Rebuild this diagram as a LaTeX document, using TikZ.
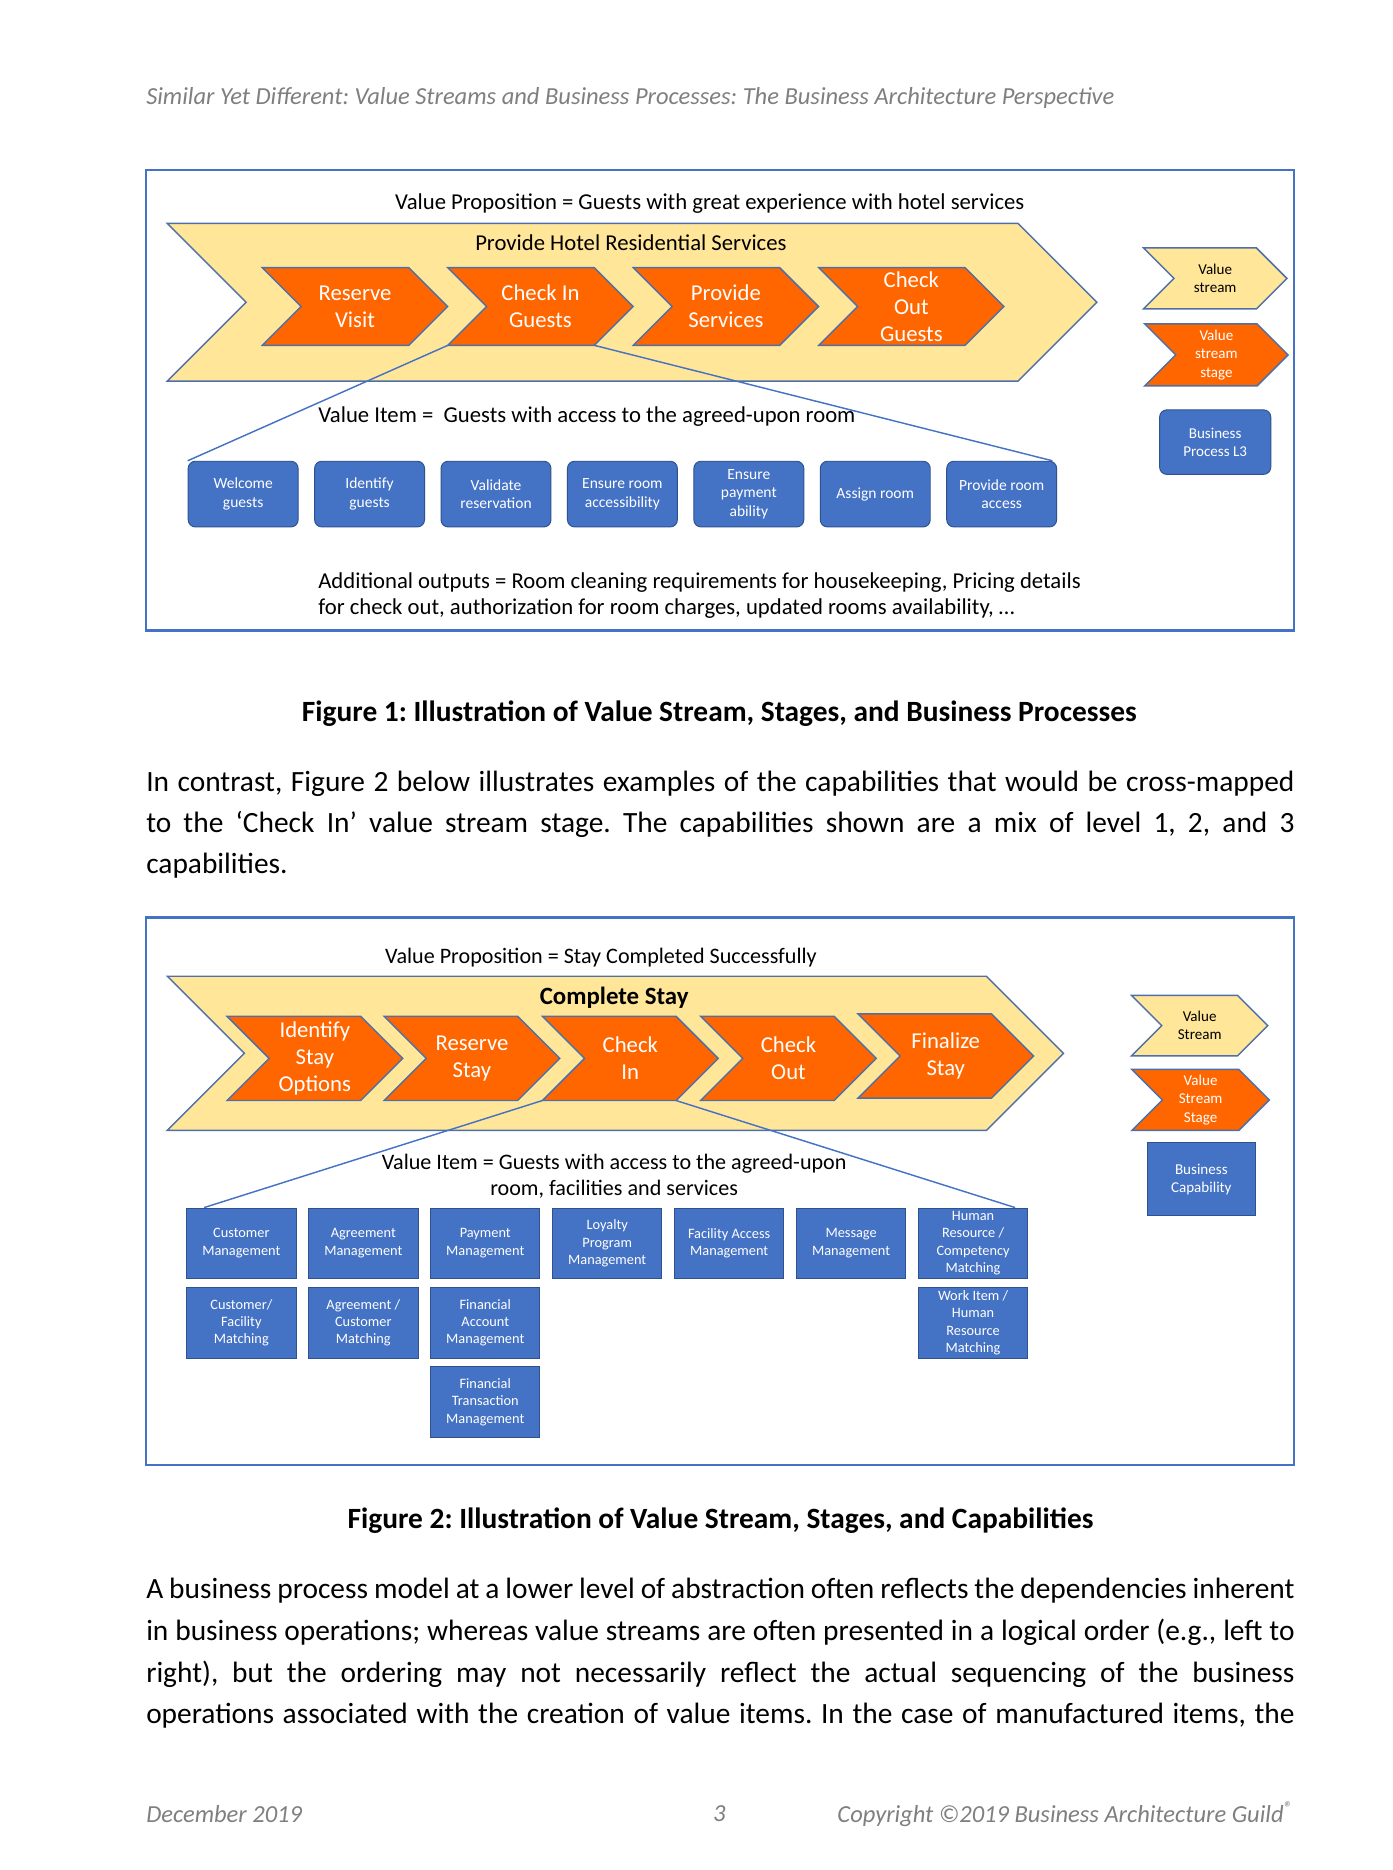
\documentclass[tikz,border=0pt]{standalone}
\usepackage{fontspec}
\setmainfont{Carlito}
\usepackage{tikz}
\usetikzlibrary{shapes.geometric, arrows}
\frenchspacing

\definecolor{vsyellow}{HTML}{FFE699}
\definecolor{vsorange}{HTML}{FF6600}
\definecolor{vsblue}{HTML}{4472C4}
\definecolor{vsedge}{HTML}{2F528F}
\definecolor{vsline}{HTML}{4F6FA8}
\definecolor{notegray}{HTML}{7F7F7F}

\newcommand{\vsbody}{\fontsize{12.3}{17.35}\selectfont}
\newcommand{\vsnote}{\fontsize{10.25}{12}\selectfont\itshape}
\newcommand{\vsfig}{\fontsize{9.5}{11.2}\selectfont}
\newcommand{\vsfigb}{\fontsize{9.25}{11}\selectfont}
\newcommand{\vsstage}{\fontsize{9.5}{11.3}\selectfont}
\newcommand{\vsproc}{\fontsize{6.5}{7.8}\selectfont}
\newcommand{\vscap}{\fontsize{6}{7.3}\selectfont}
\newcommand{\vskey}{\fontsize{6.3}{7.7}\selectfont}
\newcommand{\vsrow}[1]{\hbox to 480.5pt{#1}}

% chevron: name, left x, top y, width, height, style, text
\newcommand{\vschev}[7]{%
  \draw [#6] (#2,#3) -- ({#2+#4-#5/2},#3) -- ({#2+#4},{#3+#5/2})
    -- ({#2+#4-#5/2},{#3+#5}) -- (#2,{#3+#5}) -- ({#2+#5/2},{#3+#5/2}) -- cycle;
  \node (#1) [#6 text] at ({#2+#4/2},{#3+#5/2}) {#7};
  \coordinate (#1 sw) at (#2,{#3+#5});
  \coordinate (#1 se) at ({#2+#4-#5/2},{#3+#5});
}

\tikzstyle{stream} = [fill=vsyellow, draw=vsline, line width=0.6pt]
\tikzstyle{stream text} = [inner sep=0pt]
\tikzstyle{stage} = [fill=vsorange, draw=vsline, line width=0.6pt]
\tikzstyle{stage text} = [text=white, font=\vsstage, align=center, inner sep=0pt]
\tikzstyle{streamkey} = [fill=vsyellow, draw=vsline, line width=0.6pt]
\tikzstyle{streamkey text} = [text=black, font=\vskey, align=center, inner sep=0pt]
\tikzstyle{stagekey} = [fill=vsorange, draw=vsline, line width=0.6pt]
\tikzstyle{stagekey text} = [text=white, font=\vskey, align=center, inner sep=0pt]
\tikzstyle{process} = [rectangle, rounded corners=3pt, minimum width=46pt, minimum height=27.5pt, text centered, align=center, draw=vsedge, fill=vsblue, text=white, font=\vsproc, inner sep=0.5pt]
\tikzstyle{capability} = [rectangle, minimum width=45.75pt, minimum height=29.5pt, text centered, align=center, draw=vsedge, line width=0.4pt, fill=vsblue, text=white, font=\vscap, inner sep=0.5pt]
\tikzstyle{figframe} = [draw=vsblue, line width=1pt]
\tikzstyle{zoomline} = [draw=vsblue, line width=0.6pt]
\tikzstyle{figtext} = [font=\vsfig, inner sep=0pt]
\tikzstyle{figcaption} = [font=\vsbody\bfseries, inner sep=0pt]
\tikzstyle{bodyline} = [font=\vsbody, inner sep=0pt, anchor=base west]
\tikzstyle{pagenote} = [font=\vsnote, text=notegray, inner sep=0pt]

\begin{document}
\begin{tikzpicture}[x=0.5pt, y=-0.5pt]

\fill [white] (0,0) rectangle (1165,1565);
\useasboundingbox (0,0) rectangle (1165,1565);

\node (head) [pagenote, anchor=west] at (122,82) {Similar Yet Different: Value Streams and Business Processes: The Business Architecture Perspective};

% figure 1
\draw [figframe] (122,142.5) rectangle (1083,527.5);
\node (vp1) [figtext] at (594,170) {Value Proposition = Guests with great experience with hotel services};
\vschev{hotel}{140}{187}{778}{132}{stream}{}
\node (hoteltitle) [figtext] at (528,203) {Provide Hotel Residential Services};
\vschev{rv}{219.6}{224}{155}{65}{stage}{Reserve\\Visit}
\vschev{ci}{374.8}{224}{155}{65}{stage}{Check In\\Guests}
\vschev{ps}{530}{224}{155}{65}{stage}{Provide\\Services}
\vschev{co}{685.2}{224}{155}{65}{stage}{Check\\Out\\Guests}

\vschev{keyvs}{957}{207.5}{120}{51}{streamkey}{Value\\stream}
\vschev{keyvss}{958}{271}{120}{52}{stagekey}{Value\\stream\\stage}
\node (keybp) [process, minimum width=46.5pt, minimum height=27pt, font=\vskey] at (1017,370) {Business\\Process L3};

\begin{scope}[node distance=52.9pt]
\node (bp1) [process] at (203.5,413.5) {Welcome\\guests};
\node (bp2) [process, right of=bp1] {Identify\\guests};
\node (bp3) [process, right of=bp2] {Validate\\reservation};
\node (bp4) [process, right of=bp3] {Ensure room\\accessibility};
\node (bp5) [process, right of=bp4] {Ensure\\payment\\ability};
\node (bp6) [process, right of=bp5] {Assign room};
\node (bp7) [process, right of=bp6] {Provide room\\access};
\end{scope}

\node (vi1) [figtext, anchor=west] at (266,349) {Value Item = \ Guests with access to the agreed-upon room};
\draw [zoomline] (ci sw) -- (bp1.north west);
\draw [zoomline] (ci se) -- ([xshift=-2pt]bp7.north east);

\node (ao1) [figtext, anchor=west, align=left] at (266,498.5) {Additional outputs = Room cleaning requirements for housekeeping, Pricing details\\for check out, authorization for room charges, updated rooms availability, \dots};

\node (cap1) [figcaption] at (602,597) {Figure 1: Illustration of Value Stream, Stages, and Business Processes};

\node (p1a) [bodyline] at (122,662) {\vsrow{In contrast, Figure 2 below illustrates examples of the capabilities that would be cross-mapped}};
\node (p1b) [bodyline] at (122,697) {\vsrow{to the ‘Check In’ value stream stage. The capabilities shown are a mix of level 1, 2, and 3}};
\node (p1c) [bodyline] at (122,731) {capabilities.};

% figure 2
\draw [figframe] (122,768) rectangle (1083,1226);
\node (vp2) [figtext, font=\vsfigb] at (503,801) {Value Proposition = Stay Completed Successfully};
\vschev{stay}{140}{817}{750}{129}{stream}{}
\node (staytitle) [figtext, font=\fontsize{10.4}{12}\selectfont\bfseries] at (514,835) {Complete Stay};
\vschev{is}{190}{850.5}{147}{70.5}{stage}{Identify\\Stay\\Options}
\vschev{rs}{321.5}{850.5}{147}{70.5}{stage}{Reserve\\Stay}
\vschev{cin}{454}{850.5}{147}{70.5}{stage}{Check\\In}
\vschev{cout}{586.4}{850.5}{147}{70.5}{stage}{Check\\Out}
\vschev{fs}{718}{848.5}{147}{70.5}{stage}{Finalize\\Stay}

\vschev{key2vs}{947}{833}{114}{50.6}{streamkey}{Value\\Stream}
\vschev{key2vss}{947.3}{895}{115}{51}{stagekey}{Value\\Stream\\Stage}
\node (key2bc) [capability, minimum width=45.4pt, minimum height=30.6pt, font=\vskey] at (1005.4,987) {Business\\Capability};

\node (vi2) [figtext, font=\vsfigb, align=center] at (514,984.5) {Value Item = Guests with access to the agreed-upon\\room, facilities and services};

\begin{scope}[node distance=51.03pt]
\node (cm1) [capability] at (202,1040.5) {Customer\\Management};
\node (cm2) [capability, right of=cm1] {Agreement\\Management};
\node (cm3) [capability, right of=cm2] {Payment\\Management};
\node (cm4) [capability, right of=cm3] {Loyalty\\Program\\Management};
\node (cm5) [capability, right of=cm4] {Facility Access\\Management};
\node (cm6) [capability, right of=cm5] {Message\\Management};
\node (cm7) [capability, right of=cm6] {Human\\Resource /\\Competency\\Matching};
\end{scope}
\begin{scope}[node distance=33.25pt]
\node (cf) [capability, below of=cm1] {Customer/\\Facility\\Matching};
\node (ac) [capability, below of=cm2] {Agreement /\\Customer\\Matching};
\node (fa) [capability, below of=cm3] {Financial\\Account\\Management};
\node (ft) [capability, below of=fa] {Financial\\Transaction\\Management};
\node (wh) [capability, below of=cm7] {Work Item /\\Human\\Resource\\Matching};
\end{scope}

\draw [zoomline] (cin sw) -- ([xshift=7.5pt]cm1.north west);
\draw [zoomline] (cin se) -- ([xshift=-5.5pt]cm7.north east);

\node (cap2) [figcaption] at (603,1273) {Figure 2: Illustration of Value Stream, Stages, and Capabilities};

\node (p2a) [bodyline] at (122,1338) {\vsrow{A business process model at a lower level of abstraction often reflects the dependencies inherent}};
\node (p2b) [bodyline] at (122,1373) {\vsrow{in business operations; whereas value streams are often presented in a logical order (e.g., left to}};
\node (p2c) [bodyline] at (122,1408) {\vsrow{right), but the ordering may not necessarily reflect the actual sequencing of the business}};
\node (p2d) [bodyline] at (122,1442) {\vsrow{operations associated with the creation of value items. In the case of manufactured items, the}};

\node (date) [pagenote, anchor=west] at (122,1518) {December 2019};
\node (pageno) [pagenote] at (602,1518) {3};
\node (copy) [pagenote, anchor=east] at (1083,1518) {Copyright ©2019 Business Architecture Guild\textsuperscript{®}};

\end{tikzpicture}
\end{document}
